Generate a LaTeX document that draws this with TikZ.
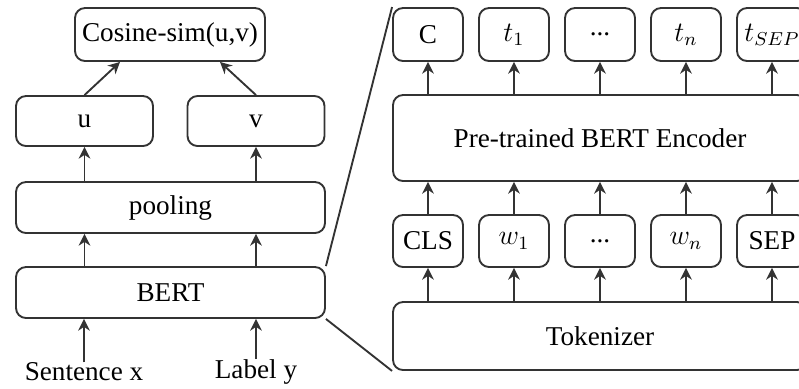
\documentclass[tikz,border=0pt]{standalone}
\usepackage{fontspec}
\setmainfont{Liberation Serif}
\usetikzlibrary{arrows.meta}
\begin{document}
\begin{tikzpicture}[>={Stealth[length=5pt,width=5pt]},
    blk/.style={draw=black!80,line width=0.8pt,rounded corners=0.15cm,inner sep=0pt,
                minimum width=#1,font=\fontsize{11.6}{14}\selectfont},
    blk/.default=1.05cm,
    lbl/.style={font=\fontsize{11.6}{14}\selectfont,inner sep=0pt},
    arr/.style={->,draw=black!80,line width=0.8pt}]
    \useasboundingbox (0,0) rectangle (11.985,-5.82);
    \clip (0,0) rectangle (11.985,-5.82);
    % left: siamese part
    \node[blk=2.85cm,minimum height=0.795cm] (cos) at (2.55,-0.5175) {Cosine-sim(u,v)};
    \node[blk=2.055cm,minimum height=0.75cm] (u) at (1.2675,-1.815) {u};
    \node[blk=2.055cm,minimum height=0.75cm] (v) at (3.84,-1.815) {v};
    \node[blk=4.635cm,minimum height=0.765cm] (pool) at (2.5575,-3.1125) {pooling};
    \node[blk=4.635cm,minimum height=0.765cm] (bert) at (2.5575,-4.3875) {BERT};
    \node[lbl] (sent) at (1.26,-5.58) {Sentence x};
    \node[lbl] (label) at (3.84,-5.58) {Label y};
    \draw[arr] (u.north) -- (cos.south -| 1.8,0);
    \draw[arr] (v.north) -- (cos.south -| 3.3,0);
    \draw[arr] (pool.north -| u.south) -- (u.south);
    \draw[arr] (pool.north -| v.south) -- (v.south);
    \draw[arr] (bert.north -| u.south) -- (pool.south -| u.south);
    \draw[arr] (bert.north -| v.south) -- (pool.south -| v.south);
    \draw[arr] (sent.north) -- (bert.south -| sent.north);
    \draw[arr] (label.north) -- (bert.south -| label.north);
    % right: inside BERT
    \node[blk=6.21cm,minimum height=1.29cm] (enc) at (9.0,-2.07) {Pre-trained BERT Encoder};
    \node[blk=6.21cm,minimum height=1.02cm] (tok) at (9.0,-5.04) {Tokenizer};
    \node[blk,minimum height=0.795cm] (c) at (6.42,-0.5175) {C};
    \node[blk,minimum height=0.795cm] (t1) at (7.71,-0.5175) {$t_1$};
    \node[blk,minimum height=0.795cm] (tdots) at (9.0,-0.5175) {...};
    \node[blk,minimum height=0.795cm] (tn) at (10.29,-0.5175) {$t_n$};
    \node[blk,minimum height=0.795cm] (tsep) at (11.58,-0.5175) {$t_{SEP}$};
    \node[blk,minimum height=0.78cm] (cls) at (6.42,-3.615) {CLS};
    \node[blk,minimum height=0.78cm] (w1) at (7.71,-3.615) {$w_1$};
    \node[blk,minimum height=0.78cm] (wdots) at (9.0,-3.615) {...};
    \node[blk,minimum height=0.78cm] (wn) at (10.29,-3.615) {$w_n$};
    \node[blk,minimum height=0.78cm] (sep) at (11.58,-3.615) {SEP};
    \foreach \top/\bot in {c/cls,t1/w1,tdots/wdots,tn/wn,tsep/sep}{
        \draw[arr] (enc.north -| \top.south) -- (\top.south);
        \draw[arr] (\bot.north) -- (enc.south -| \bot.north);
        \draw[arr] (tok.north -| \bot.south) -- (\bot.south);
    }
    % zoom lines
    \draw[black!80,line width=0.8pt] (bert.north east) -- (c.north west);
    \draw[black!80,line width=0.8pt] (bert.south east) -- (tok.south west);
\end{tikzpicture}
\end{document}
